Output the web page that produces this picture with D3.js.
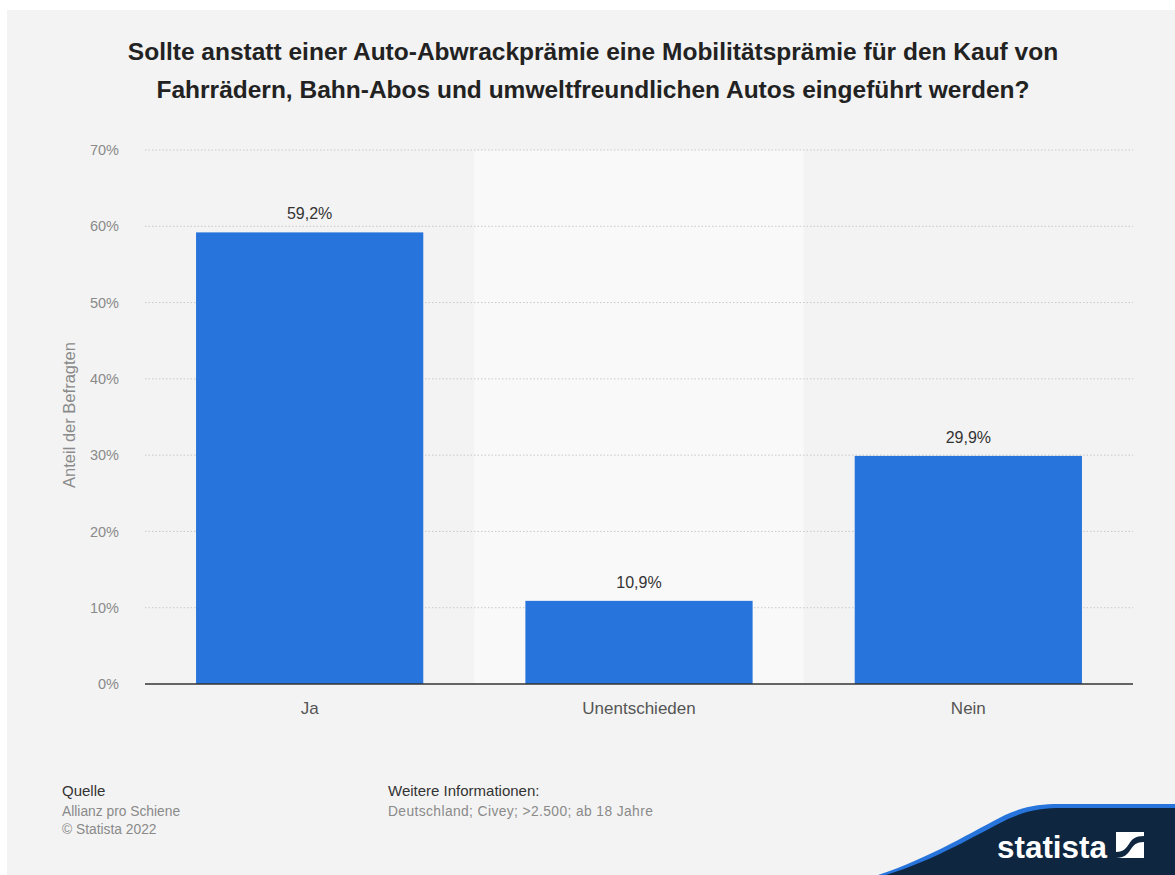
<!DOCTYPE html>
<html>
<head>
<meta charset="utf-8">
<script src="https://cdn.jsdelivr.net/npm/d3@7"></script>
<style>
  html, body { margin: 0; padding: 0; background: #ffffff; }
  svg { display: block; }
  text { font-family: "Liberation Sans", Arial, sans-serif; }
</style>
</head>
<body>
<svg id="chart" width="1175" height="875"></svg>
<script>
// Survey answers and their shares (percent)
const categories = ["Ja", "Unentschieden", "Nein"];
const values = [59.2, 10.9, 29.9];
const yTicks = [0, 10, 20, 30, 40, 50, 60, 70];
const titleLines = [
  "Sollte anstatt einer Auto-Abwrackprämie eine Mobilitätsprämie für den Kauf von",
  "Fahrrädern, Bahn-Abos und umweltfreundlichen Autos eingeführt werden?"
];
const sourceLines = ["Allianz pro Schiene", "© Statista 2022"];
const infoLines = ["Deutschland; Civey; >2.500; ab 18 Jahre"];

const svg = d3.select("#chart");
const W = 1175, H = 875;

// panel background
svg.append("rect").attr("x", 7).attr("y", 10).attr("width", W - 7).attr("height", H - 10)
  .attr("fill", "#f3f3f3");

// title
const title = svg.append("text").attr("text-anchor", "middle")
  .attr("font-weight", "bold").attr("font-size", 24.5).attr("fill", "#222");
titleLines.forEach((t, i) => {
  title.append("tspan").attr("x", 593).attr("y", 60 + i * 38).text(t);
});

const margin = { left: 145, right: 1133, top: 150, bottom: 684 };

const x = d3.scaleBand().domain(categories)
  .range([margin.left, margin.right])
  .paddingInner(0.31).paddingOuter(0.155);
const y = d3.scaleLinear().domain([0, 70]).range([margin.bottom, margin.top]);

// highlighted middle band
const step = x.step();
svg.append("rect")
  .attr("x", x("Unentschieden") - step * 0.155)
  .attr("y", margin.top)
  .attr("width", step)
  .attr("height", margin.bottom - margin.top)
  .attr("fill", "#f9f9f9");

// gridlines
svg.append("g").selectAll("line").data(yTicks.filter(d => d > 0)).join("line")
  .attr("x1", margin.left).attr("x2", margin.right)
  .attr("y1", d => y(d)).attr("y2", d => y(d))
  .attr("stroke", "#c8c8c8").attr("stroke-width", 1)
  .attr("stroke-dasharray", "1.5,2");

// y axis labels
const yAxis = d3.axisLeft(y).tickValues(yTicks).tickSize(0).tickPadding(0)
  .tickFormat(d => d + "%");
const yg = svg.append("g").attr("transform", `translate(${119},0)`).call(yAxis);
yg.select(".domain").remove();
yg.selectAll("text").attr("font-size", 14.5).attr("fill", "#8a8a8a")
  .attr("font-family", "'Liberation Sans', Arial, sans-serif");

// y axis title
svg.append("text")
  .attr("transform", `translate(75,415) rotate(-90)`)
  .attr("text-anchor", "middle").attr("font-size", 16.5).attr("fill", "#8a8a8a")
  .text("Anteil der Befragten");

// bars
svg.append("g").selectAll("rect").data(values).join("rect")
  .attr("x", (d, i) => x(categories[i]))
  .attr("width", x.bandwidth())
  .attr("y", d => y(d))
  .attr("height", d => y(0) - y(d))
  .attr("fill", "#2775dc");

// value labels
svg.append("g").selectAll("text").data(values).join("text")
  .attr("x", (d, i) => x(categories[i]) + x.bandwidth() / 2)
  .attr("y", d => y(d) - 13)
  .attr("text-anchor", "middle").attr("font-size", 16).attr("fill", "#333")
  .text(d => d.toFixed(1).replace(".", ",") + "%");

// baseline
svg.append("line").attr("x1", margin.left).attr("x2", margin.right)
  .attr("y1", y(0)).attr("y2", y(0)).attr("stroke", "#333").attr("stroke-width", 1.5);

// x axis labels
const xAxis = d3.axisBottom(x).tickSize(0).tickPadding(0);
const xg = svg.append("g").attr("transform", `translate(0,${y(0) + 30})`).call(xAxis);
xg.select(".domain").remove();
xg.selectAll("text").attr("font-size", 17).attr("fill", "#555").attr("dy", 0)
  .attr("font-family", "'Liberation Sans', Arial, sans-serif");

// footer
svg.append("text").attr("x", 62).attr("y", 796).attr("font-size", 15).attr("fill", "#333").text("Quelle");
svg.append("g").selectAll("text").data(sourceLines).join("text")
  .attr("x", 62).attr("y", (d, i) => 816 + i * 18).attr("font-size", 13.8).attr("fill", "#8a8a8a").text(d => d);
svg.append("text").attr("x", 388).attr("y", 796).attr("font-size", 15).attr("fill", "#333").text("Weitere Informationen:");
svg.append("g").selectAll("text").data(infoLines).join("text")
  .attr("x", 388).attr("y", (d, i) => 816 + i * 18).attr("font-size", 13.8).attr("fill", "#8a8a8a")
  .attr("letter-spacing", 0.4)
  .text(d => d);

// brand corner
svg.append("path")
  .attr("d", "M878,875 C930,858 975,830 1005,815 C1025,806 1040,804 1060,804 L1175,804 L1175,875 Z")
  .attr("fill", "#2775dc");
svg.append("path")
  .attr("d", "M886,875 C935,860 978,834 1008,819 C1028,810 1043,808 1063,808 L1175,808 L1175,875 Z")
  .attr("fill", "#0f2640");
svg.append("text").attr("x", 997).attr("y", 858).attr("font-size", 31).attr("font-weight", "bold")
  .attr("fill", "#fff").attr("font-family", "'Liberation Sans Narrow', 'Liberation Sans', Arial, sans-serif")
  .attr("textLength", 110).attr("lengthAdjust", "spacingAndGlyphs")
  .text("statista");
const icon = svg.append("g").attr("transform", "translate(1116,832)");
icon.append("rect").attr("width", 28).attr("height", 26).attr("fill", "#fff");
icon.append("path").attr("d", "M0,26 L0,20 C8,20 10,16 13,12 C16,7 19,4 28,4 L28,0 L28,10 C20,10 18,13 15,17 C12,22 8,26 0,26 Z")
  .attr("fill", "#0f2640");
</script>
</body>
</html>
